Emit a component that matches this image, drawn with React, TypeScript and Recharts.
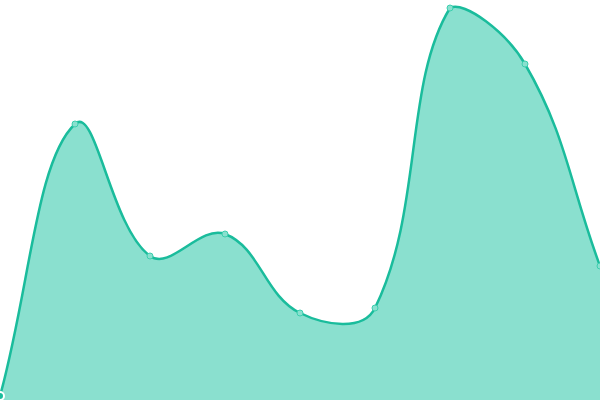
import React from "react";
import { AreaChart, Area, XAxis, YAxis } from "recharts";

const labels = ["A", "B", "C", "D", "E", "F", "G", "H", "I"];
const values = [1, 69, 36, 41.5, 21.75, 23, 98, 84, 33.5];

const data = labels.map((name, i) => ({ name, value: values[i] }));

const W = 600;
const H = 400;
const TENSION = 0.4;

// distance-weighted spline (tension 0.4) with control points kept inside the plot
function tensionCurve(context: any) {
  let pts: [number, number][] = [];
  let line = NaN;
  const clamp = (v: number, lo: number, hi: number) => Math.max(lo, Math.min(hi, v));
  return {
    areaStart() {
      line = 0;
    },
    areaEnd() {
      line = NaN;
    },
    lineStart() {
      pts = [];
    },
    point(x: number, y: number) {
      pts.push([+x, +y]);
    },
    lineEnd() {
      const n = pts.length;
      if (n) {
        if (line) context.lineTo(pts[0][0], pts[0][1]);
        else context.moveTo(pts[0][0], pts[0][1]);
        const cps = pts.map((cur, i) => {
          const prev = i > 0 ? pts[i - 1] : cur;
          const next = i < n - 1 ? pts[i + 1] : cur;
          const d01 = Math.hypot(cur[0] - prev[0], cur[1] - prev[1]);
          const d12 = Math.hypot(next[0] - cur[0], next[1] - cur[1]);
          let s01 = d01 / (d01 + d12);
          let s12 = d12 / (d01 + d12);
          if (isNaN(s01)) s01 = 0;
          if (isNaN(s12)) s12 = 0;
          const fa = TENSION * s01;
          const fb = TENSION * s12;
          return {
            p: [
              clamp(cur[0] - fa * (next[0] - prev[0]), 0, W),
              clamp(cur[1] - fa * (next[1] - prev[1]), 0, H),
            ],
            n: [
              clamp(cur[0] + fb * (next[0] - prev[0]), 0, W),
              clamp(cur[1] + fb * (next[1] - prev[1]), 0, H),
            ],
          };
        });
        for (let i = 1; i < n; i++) {
          context.bezierCurveTo(
            cps[i - 1].n[0],
            cps[i - 1].n[1],
            cps[i].p[0],
            cps[i].p[1],
            pts[i][0],
            pts[i][1]
          );
        }
      }
      if (line || (line !== 0 && n === 1)) context.closePath();
      line = 1 - line;
    },
  };
}

const App: React.FC = () => {
  return (
    <div style={{ position: "fixed", top: 0, left: 0, width: W, height: H, background: "#fff" }}>
      <AreaChart width={W} height={H} data={data} margin={{ top: 0, right: 0, bottom: 0, left: 0 }}>
        <XAxis dataKey="name" hide />
        <YAxis hide domain={[0, 100]} />
        <Area
          type={tensionCurve as any}
          dataKey="value"
          stroke="#1abc9c"
          strokeWidth={2.5}
          fill="#8ae0cf"
          fillOpacity={1}
          dot={{ r: 3, fill: "#8ae0cf", stroke: "#3ccfae", strokeWidth: 1, fillOpacity: 1 }}
          isAnimationActive={false}
        />
      </AreaChart>
    </div>
  );
};

export default App;
